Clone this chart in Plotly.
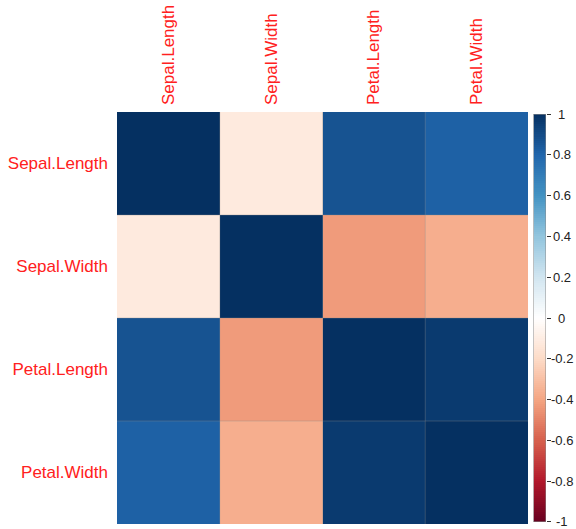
import numpy as np
import plotly.graph_objects as go

# Iris feature correlation matrix
variables = ["Sepal.Length", "Sepal.Width", "Petal.Length", "Petal.Width"]
corr = [
    [1.000, -0.118, 0.872, 0.818],
    [-0.118, 1.000, -0.428, -0.366],
    [0.872, -0.428, 1.000, 0.963],
    [0.818, -0.366, 0.963, 1.000],
]
cbar_ticks = [-1, -0.8, -0.6, -0.4, -0.2, 0, 0.2, 0.4, 0.6, 0.8, 1]
cbar_labels = ["-1", "-0.8", "-0.6", "-0.4", "-0.2", "0", "0.2", "0.4", "0.6", "0.8", "1"]

rdbu = ["#67001F", "#B2182B", "#D6604D", "#F4A582", "#FDDBC7", "#FFFFFF",
        "#D1E5F0", "#92C5DE", "#4393C3", "#2166AC", "#053061"]
colorscale = [[i / (len(rdbu) - 1), c] for i, c in enumerate(rdbu)]

FIG_W, FIG_H = 576, 529
L, R, T, B = 117, 0, 112, 5
plot_w = FIG_W - L - R

def px_to_dom(px):
    return (px - L) / plot_w

fig = go.Figure()

# correlation cells
fig.add_trace(go.Heatmap(
    z=corr, x=variables, y=variables,
    zmin=-1, zmax=1, colorscale=colorscale, showscale=False,
    xaxis="x", yaxis="y",
))

# colour key drawn as a 200-step ramp on its own axes
n_steps = 200
edges = np.linspace(-1, 1, n_steps + 1)
centers = (edges[:-1] + edges[1:]) / 2
fig.add_trace(go.Heatmap(
    z=[[c] for c in centers], y=centers, x=[0],
    zmin=-1, zmax=1, colorscale=colorscale, showscale=False,
    xaxis="x2", yaxis="y2", hoverinfo="skip",
))

# faint cell separators
n = len(variables)
for k in range(1, n):
    b = k - 0.5
    fig.add_shape(type="line", x0=b, x1=b, y0=-0.5, y1=n - 0.5, xref="x", yref="y",
                  line=dict(color="rgba(140,140,140,0.35)", width=1))
    fig.add_shape(type="line", x0=-0.5, x1=n - 0.5, y0=b, y1=b, xref="x", yref="y",
                  line=dict(color="rgba(140,140,140,0.35)", width=1))

# outline around colour key
fig.add_shape(type="rect", x0=-0.5, x1=0.5, y0=-1, y1=1, xref="x2", yref="y2",
              line=dict(color="#8a8a8a", width=1))

# colour key labels, centred beside their tick marks
key_font = dict(family="Liberation Sans, Arial, sans-serif", size=13, color="#222222")
for v, t in zip(cbar_ticks, cbar_labels):
    fig.add_annotation(x=px_to_dom(561.5), xref="paper", y=v, yref="y2",
                       text=t, showarrow=False, xanchor="center", yanchor="middle",
                       font=key_font)

label_font = dict(family="Liberation Sans, Arial, sans-serif", size=17, color="#FF2020")

fig.update_layout(
    width=FIG_W, height=FIG_H,
    margin=dict(l=L, r=R, t=T, b=B),
    paper_bgcolor="white", plot_bgcolor="white",
    xaxis=dict(domain=[0, px_to_dom(528)], side="top", tickangle=-90, tickfont=label_font,
               showgrid=False, zeroline=False, ticks="", ticklabelstandoff=6,
               range=[-0.5, n - 0.5], automargin=False, anchor="y"),
    yaxis=dict(domain=[0, 1], autorange=False, range=[n - 0.5, -0.5], tickfont=label_font,
               showgrid=False, zeroline=False, ticks="", ticklabelstandoff=8,
               automargin=False, anchor="x"),
    xaxis2=dict(domain=[px_to_dom(533.5), px_to_dom(546)], range=[-0.5, 0.5],
                showticklabels=False, showgrid=False, zeroline=False, ticks="",
                automargin=False, anchor="y2"),
    yaxis2=dict(domain=[0.005, 0.995], range=[-1, 1], side="right", anchor="x2",
                tickvals=cbar_ticks, showticklabels=False,
                ticks="outside", ticklen=4, tickcolor="#333333",
                showgrid=False, zeroline=False, automargin=False),
)

fig.write_html("out.html")
